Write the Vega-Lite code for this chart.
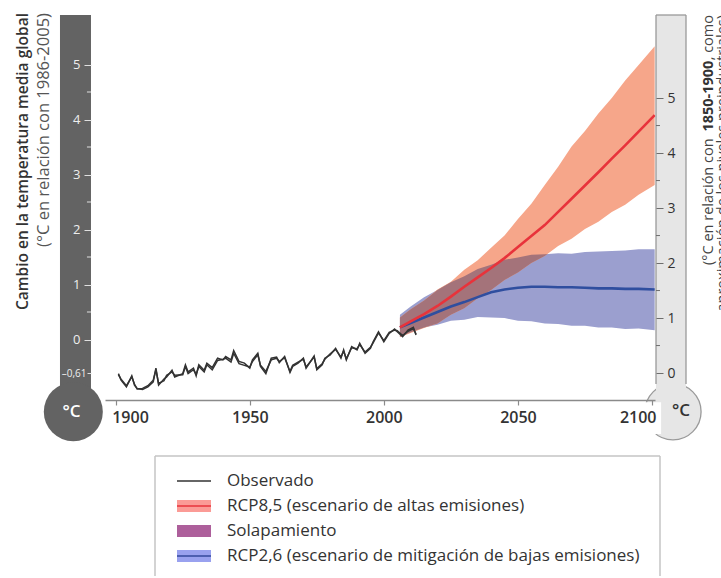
{
  "$schema": "https://vega.github.io/schema/vega-lite/v6.json",
  "padding": 0,
  "autosize": {"type": "pad"},
  "spacing": 12,
  "config": {"view": {"stroke": null}, "font": "Open Sans", "axis": {"grid": false}},
  "datasets": {
    "observado": [
      {"anio": 1901, "valor": -0.62, "conjunto": "A"}, {"anio": 1902, "valor": -0.74, "conjunto": "A"}, {"anio": 1904, "valor": -0.86, "conjunto": "A"}, {"anio": 1906, "valor": -0.66, "conjunto": "A"}, {"anio": 1907, "valor": -0.83, "conjunto": "A"}, {"anio": 1908, "valor": -0.89, "conjunto": "A"}, {"anio": 1910, "valor": -0.91, "conjunto": "A"}, {"anio": 1912, "valor": -0.86, "conjunto": "A"}, {"anio": 1914, "valor": -0.77, "conjunto": "A"}, {"anio": 1915, "valor": -0.52, "conjunto": "A"}, {"anio": 1916, "valor": -0.83, "conjunto": "A"}, {"anio": 1918, "valor": -0.72, "conjunto": "A"}, {"anio": 1919, "valor": -0.68, "conjunto": "A"}, {"anio": 1921, "valor": -0.56, "conjunto": "A"}, {"anio": 1922, "valor": -0.68, "conjunto": "A"}, {"anio": 1925, "valor": -0.62, "conjunto": "A"}, {"anio": 1926, "valor": -0.46, "conjunto": "A"}, {"anio": 1927, "valor": -0.59, "conjunto": "A"}, {"anio": 1929, "valor": -0.52, "conjunto": "A"}, {"anio": 1930, "valor": -0.66, "conjunto": "A"}, {"anio": 1931, "valor": -0.46, "conjunto": "A"}, {"anio": 1933, "valor": -0.56, "conjunto": "A"}, {"anio": 1934, "valor": -0.43, "conjunto": "A"}, {"anio": 1936, "valor": -0.51, "conjunto": "A"}, {"anio": 1938, "valor": -0.34, "conjunto": "A"}, {"anio": 1940, "valor": -0.37, "conjunto": "A"}, {"anio": 1941, "valor": -0.31, "conjunto": "A"}, {"anio": 1943, "valor": -0.37, "conjunto": "A"}, {"anio": 1944, "valor": -0.2, "conjunto": "A"}, {"anio": 1946, "valor": -0.4, "conjunto": "A"}, {"anio": 1948, "valor": -0.43, "conjunto": "A"}, {"anio": 1950, "valor": -0.52, "conjunto": "A"}, {"anio": 1951, "valor": -0.37, "conjunto": "A"}, {"anio": 1953, "valor": -0.25, "conjunto": "A"}, {"anio": 1954, "valor": -0.49, "conjunto": "A"}, {"anio": 1956, "valor": -0.62, "conjunto": "A"}, {"anio": 1958, "valor": -0.34, "conjunto": "A"}, {"anio": 1960, "valor": -0.32, "conjunto": "A"}, {"anio": 1961, "valor": -0.42, "conjunto": "A"}, {"anio": 1963, "valor": -0.31, "conjunto": "A"}, {"anio": 1965, "valor": -0.6, "conjunto": "A"}, {"anio": 1966, "valor": -0.49, "conjunto": "A"}, {"anio": 1968, "valor": -0.43, "conjunto": "A"}, {"anio": 1970, "valor": -0.34, "conjunto": "A"}, {"anio": 1971, "valor": -0.52, "conjunto": "A"}, {"anio": 1974, "valor": -0.3, "conjunto": "A"}, {"anio": 1975, "valor": -0.55, "conjunto": "A"}, {"anio": 1977, "valor": -0.46, "conjunto": "A"}, {"anio": 1978, "valor": -0.34, "conjunto": "A"}, {"anio": 1980, "valor": -0.28, "conjunto": "A"}, {"anio": 1982, "valor": -0.16, "conjunto": "A"}, {"anio": 1984, "valor": -0.34, "conjunto": "A"}, {"anio": 1985, "valor": -0.19, "conjunto": "A"}, {"anio": 1986, "valor": -0.37, "conjunto": "A"}, {"anio": 1988, "valor": -0.13, "conjunto": "A"}, {"anio": 1990, "valor": -0.19, "conjunto": "A"}, {"anio": 1991, "valor": -0.07, "conjunto": "A"}, {"anio": 1993, "valor": -0.25, "conjunto": "A"}, {"anio": 1995, "valor": -0.16, "conjunto": "A"}, {"anio": 1996, "valor": -0.04, "conjunto": "A"}, {"anio": 1998, "valor": 0.14, "conjunto": "A"}, {"anio": 2000, "valor": -0.04, "conjunto": "A"}, {"anio": 2002, "valor": 0.11, "conjunto": "A"}, {"anio": 2004, "valor": 0.19, "conjunto": "A"}, {"anio": 2005, "valor": 0.14, "conjunto": "A"}, {"anio": 2007, "valor": 0.05, "conjunto": "A"}, {"anio": 2009, "valor": 0.17, "conjunto": "A"}, {"anio": 2011, "valor": 0.22, "conjunto": "A"}, {"anio": 2012, "valor": 0.08, "conjunto": "A"},
      {"anio": 1901, "valor": -0.64, "conjunto": "B"}, {"anio": 1902, "valor": -0.72, "conjunto": "B"}, {"anio": 1904, "valor": -0.84, "conjunto": "B"}, {"anio": 1906, "valor": -0.68, "conjunto": "B"}, {"anio": 1907, "valor": -0.81, "conjunto": "B"}, {"anio": 1908, "valor": -0.9, "conjunto": "B"}, {"anio": 1910, "valor": -0.89, "conjunto": "B"}, {"anio": 1912, "valor": -0.84, "conjunto": "B"}, {"anio": 1914, "valor": -0.74, "conjunto": "B"}, {"anio": 1915, "valor": -0.55, "conjunto": "B"}, {"anio": 1916, "valor": -0.8, "conjunto": "B"}, {"anio": 1918, "valor": -0.75, "conjunto": "B"}, {"anio": 1919, "valor": -0.65, "conjunto": "B"}, {"anio": 1921, "valor": -0.59, "conjunto": "B"}, {"anio": 1922, "valor": -0.65, "conjunto": "B"}, {"anio": 1925, "valor": -0.64, "conjunto": "B"}, {"anio": 1926, "valor": -0.49, "conjunto": "B"}, {"anio": 1927, "valor": -0.62, "conjunto": "B"}, {"anio": 1929, "valor": -0.55, "conjunto": "B"}, {"anio": 1930, "valor": -0.63, "conjunto": "B"}, {"anio": 1931, "valor": -0.49, "conjunto": "B"}, {"anio": 1933, "valor": -0.59, "conjunto": "B"}, {"anio": 1934, "valor": -0.46, "conjunto": "B"}, {"anio": 1936, "valor": -0.55, "conjunto": "B"}, {"anio": 1938, "valor": -0.38, "conjunto": "B"}, {"anio": 1940, "valor": -0.36, "conjunto": "B"}, {"anio": 1941, "valor": -0.34, "conjunto": "B"}, {"anio": 1943, "valor": -0.41, "conjunto": "B"}, {"anio": 1944, "valor": -0.25, "conjunto": "B"}, {"anio": 1946, "valor": -0.44, "conjunto": "B"}, {"anio": 1948, "valor": -0.47, "conjunto": "B"}, {"anio": 1950, "valor": -0.5, "conjunto": "B"}, {"anio": 1951, "valor": -0.4, "conjunto": "B"}, {"anio": 1953, "valor": -0.28, "conjunto": "B"}, {"anio": 1954, "valor": -0.47, "conjunto": "B"}, {"anio": 1956, "valor": -0.58, "conjunto": "B"}, {"anio": 1958, "valor": -0.37, "conjunto": "B"}, {"anio": 1960, "valor": -0.34, "conjunto": "B"}, {"anio": 1961, "valor": -0.4, "conjunto": "B"}, {"anio": 1963, "valor": -0.33, "conjunto": "B"}, {"anio": 1965, "valor": -0.58, "conjunto": "B"}, {"anio": 1966, "valor": -0.47, "conjunto": "B"}, {"anio": 1968, "valor": -0.41, "conjunto": "B"}, {"anio": 1970, "valor": -0.36, "conjunto": "B"}, {"anio": 1971, "valor": -0.5, "conjunto": "B"}, {"anio": 1974, "valor": -0.32, "conjunto": "B"}, {"anio": 1975, "valor": -0.53, "conjunto": "B"}, {"anio": 1977, "valor": -0.44, "conjunto": "B"}, {"anio": 1978, "valor": -0.36, "conjunto": "B"}, {"anio": 1980, "valor": -0.26, "conjunto": "B"}, {"anio": 1982, "valor": -0.18, "conjunto": "B"}, {"anio": 1984, "valor": -0.32, "conjunto": "B"}, {"anio": 1985, "valor": -0.21, "conjunto": "B"}, {"anio": 1986, "valor": -0.35, "conjunto": "B"}, {"anio": 1988, "valor": -0.15, "conjunto": "B"}, {"anio": 1990, "valor": -0.17, "conjunto": "B"}, {"anio": 1991, "valor": -0.09, "conjunto": "B"}, {"anio": 1993, "valor": -0.23, "conjunto": "B"}, {"anio": 1995, "valor": -0.14, "conjunto": "B"}, {"anio": 1996, "valor": -0.06, "conjunto": "B"}, {"anio": 1998, "valor": 0.12, "conjunto": "B"}, {"anio": 2000, "valor": -0.02, "conjunto": "B"}, {"anio": 2002, "valor": 0.13, "conjunto": "B"}, {"anio": 2004, "valor": 0.17, "conjunto": "B"}, {"anio": 2005, "valor": 0.16, "conjunto": "B"}, {"anio": 2007, "valor": 0.07, "conjunto": "B"}, {"anio": 2009, "valor": 0.15, "conjunto": "B"}, {"anio": 2011, "valor": 0.2, "conjunto": "B"}, {"anio": 2012, "valor": 0.1, "conjunto": "B"}
    ],
    "proyecciones": [
      {"anio": 2006, "escenario": "RCP8,5", "media": 0.22, "inferior": 0.04, "superior": 0.4},
      {"anio": 2010, "escenario": "RCP8,5", "media": 0.33, "inferior": 0.12, "superior": 0.55},
      {"anio": 2015, "escenario": "RCP8,5", "media": 0.46, "inferior": 0.21, "superior": 0.71},
      {"anio": 2020, "escenario": "RCP8,5", "media": 0.61, "inferior": 0.29, "superior": 0.91},
      {"anio": 2025, "escenario": "RCP8,5", "media": 0.78, "inferior": 0.45, "superior": 1.05},
      {"anio": 2030, "escenario": "RCP8,5", "media": 0.96, "inferior": 0.57, "superior": 1.27},
      {"anio": 2035, "escenario": "RCP8,5", "media": 1.13, "inferior": 0.75, "superior": 1.44},
      {"anio": 2040, "escenario": "RCP8,5", "media": 1.3, "inferior": 0.9, "superior": 1.67},
      {"anio": 2045, "escenario": "RCP8,5", "media": 1.48, "inferior": 1.08, "superior": 1.89},
      {"anio": 2050, "escenario": "RCP8,5", "media": 1.68, "inferior": 1.22, "superior": 2.19},
      {"anio": 2055, "escenario": "RCP8,5", "media": 1.88, "inferior": 1.39, "superior": 2.47},
      {"anio": 2060, "escenario": "RCP8,5", "media": 2.08, "inferior": 1.52, "superior": 2.81},
      {"anio": 2065, "escenario": "RCP8,5", "media": 2.32, "inferior": 1.7, "superior": 3.14},
      {"anio": 2070, "escenario": "RCP8,5", "media": 2.56, "inferior": 1.83, "superior": 3.51},
      {"anio": 2075, "escenario": "RCP8,5", "media": 2.8, "inferior": 2.01, "superior": 3.79},
      {"anio": 2080, "escenario": "RCP8,5", "media": 3.04, "inferior": 2.14, "superior": 4.11},
      {"anio": 2085, "escenario": "RCP8,5", "media": 3.29, "inferior": 2.32, "superior": 4.39},
      {"anio": 2090, "escenario": "RCP8,5", "media": 3.53, "inferior": 2.45, "superior": 4.71},
      {"anio": 2095, "escenario": "RCP8,5", "media": 3.78, "inferior": 2.63, "superior": 4.99},
      {"anio": 2101, "escenario": "RCP8,5", "media": 4.08, "inferior": 2.81, "superior": 5.33},
      {"anio": 2006, "escenario": "RCP2,6", "media": 0.22, "inferior": 0.05, "superior": 0.45},
      {"anio": 2010, "escenario": "RCP2,6", "media": 0.3, "inferior": 0.13, "superior": 0.6},
      {"anio": 2015, "escenario": "RCP2,6", "media": 0.4, "inferior": 0.22, "superior": 0.77},
      {"anio": 2020, "escenario": "RCP2,6", "media": 0.5, "inferior": 0.27, "superior": 0.9},
      {"anio": 2025, "escenario": "RCP2,6", "media": 0.6, "inferior": 0.34, "superior": 1.04},
      {"anio": 2030, "escenario": "RCP2,6", "media": 0.68, "inferior": 0.36, "superior": 1.15},
      {"anio": 2035, "escenario": "RCP2,6", "media": 0.77, "inferior": 0.41, "superior": 1.28},
      {"anio": 2040, "escenario": "RCP2,6", "media": 0.86, "inferior": 0.4, "superior": 1.36},
      {"anio": 2045, "escenario": "RCP2,6", "media": 0.91, "inferior": 0.39, "superior": 1.45},
      {"anio": 2050, "escenario": "RCP2,6", "media": 0.94, "inferior": 0.34, "superior": 1.49},
      {"anio": 2055, "escenario": "RCP2,6", "media": 0.96, "inferior": 0.33, "superior": 1.54},
      {"anio": 2060, "escenario": "RCP2,6", "media": 0.96, "inferior": 0.29, "superior": 1.55},
      {"anio": 2065, "escenario": "RCP2,6", "media": 0.95, "inferior": 0.28, "superior": 1.57},
      {"anio": 2070, "escenario": "RCP2,6", "media": 0.95, "inferior": 0.25, "superior": 1.56},
      {"anio": 2075, "escenario": "RCP2,6", "media": 0.94, "inferior": 0.25, "superior": 1.59},
      {"anio": 2080, "escenario": "RCP2,6", "media": 0.93, "inferior": 0.22, "superior": 1.6},
      {"anio": 2085, "escenario": "RCP2,6", "media": 0.93, "inferior": 0.22, "superior": 1.61},
      {"anio": 2090, "escenario": "RCP2,6", "media": 0.92, "inferior": 0.19, "superior": 1.62},
      {"anio": 2095, "escenario": "RCP2,6", "media": 0.92, "inferior": 0.2, "superior": 1.64},
      {"anio": 2101, "escenario": "RCP2,6", "media": 0.91, "inferior": 0.17, "superior": 1.64}
    ],
    "solapamiento": [
      {"anio": 2006, "inferior": 0.05, "superior": 0.4},
      {"anio": 2010, "inferior": 0.13, "superior": 0.55},
      {"anio": 2015, "inferior": 0.22, "superior": 0.71},
      {"anio": 2020, "inferior": 0.29, "superior": 0.9},
      {"anio": 2025, "inferior": 0.45, "superior": 1.04},
      {"anio": 2030, "inferior": 0.57, "superior": 1.15},
      {"anio": 2035, "inferior": 0.75, "superior": 1.28},
      {"anio": 2040, "inferior": 0.9, "superior": 1.36},
      {"anio": 2045, "inferior": 1.08, "superior": 1.45},
      {"anio": 2050, "inferior": 1.22, "superior": 1.49},
      {"anio": 2055, "inferior": 1.39, "superior": 1.54},
      {"anio": 2060, "inferior": 1.52, "superior": 1.55},
      {"anio": 2061, "inferior": 1.553, "superior": 1.553}
    ],
    "leyenda": [
      {"orden": 1, "etiqueta": "Observado"},
      {"orden": 2, "etiqueta": "RCP8,5 (escenario de altas emisiones)"},
      {"orden": 3, "etiqueta": "Solapamiento"},
      {"orden": 4, "etiqueta": "RCP2,6 (escenario de mitigación de bajas emisiones)"}
    ]
  },
  "vconcat": [
    {
      "hconcat": [
        {
          "width": 105,
          "height": 400,
          "data": {"values": [{"v": 0.5}, {"v": 1.5}, {"v": 2.5}, {"v": 3.5}, {"v": 4.5}]},
          "encoding": {
            "y": {"type": "quantitative", "scale": {"domain": [-1.1, 6.17273], "nice": false, "zero": false},
              "axis": {"orient": "left", "offset": -91, "values": [-0.61, 0, 1, 2, 3, 4, 5], "labelExpr": "datum.value < -0.5 ? '–0,61' : datum.label", "title": null, "domain": false, "grid": false, "tickColor": "#e0e0e0", "tickWidth": 1, "tickSize": {"condition": {"test": "datum.value < -0.5", "value": 4}, "value": 7}, "labelColor": "#eeeeee", "labelFont": "Open Sans", "labelFontSize": {"condition": {"test": "datum.value < -0.5", "value": 10}, "value": 13}, "labelPadding": {"condition": {"test": "datum.value < -0.5", "value": 1}, "value": 4}, "zindex": 1}}
          },
          "layer": [
            {
              "transform": [{"filter": "datum.v === 0.5"}],
              "mark": {"type": "rect", "fill": "#636363"},
              "encoding": {
                "x": {"datum": 0, "type": "quantitative", "scale": {"domain": [-1.935, 1.452], "nice": false, "zero": false}, "axis": null},
                "x2": {"datum": 1},
                "y": {"datum": -0.9},
                "y2": {"datum": 5.9}
              }
            },
            {
              "mark": {"type": "rule", "stroke": "#e0e0e0", "strokeWidth": 1},
              "encoding": {
                "x": {"datum": 0.87, "type": "quantitative", "scale": {"domain": [-1.935, 1.452], "nice": false, "zero": false}, "axis": null},
                "x2": {"datum": 1},
                "y": {"field": "v"}
              }
            },
            {
              "transform": [{"filter": "datum.v === 0.5"}],
              "mark": {"type": "point", "shape": "circle", "filled": true, "fill": "#636363", "size": 3484, "opacity": 1, "strokeWidth": 0},
              "encoding": {
                "x": {"datum": 0.43, "type": "quantitative", "scale": {"domain": [-1.935, 1.452], "nice": false, "zero": false}, "axis": null},
                "y": {"datum": -1.313}
              }
            },
            {
              "transform": [{"filter": "datum.v === 0.5"}],
              "mark": {"type": "text", "text": "°C", "font": "Open Sans", "fontSize": 17, "fontWeight": 600, "color": "#ffffff"},
              "encoding": {
                "x": {"datum": 0.37, "type": "quantitative", "scale": {"domain": [-1.935, 1.452], "nice": false, "zero": false}, "axis": null},
                "y": {"datum": -1.327}
              }
            },
            {
              "transform": [{"filter": "datum.v === 0.5"}],
              "mark": {"type": "text", "text": "Cambio en la temperatura media global", "angle": 270, "align": "right", "baseline": "middle", "font": "Open Sans", "fontSize": 15.5, "fontWeight": 600, "color": "#333333"},
              "encoding": {
                "x": {"datum": -1.194, "type": "quantitative", "scale": {"domain": [-1.935, 1.452], "nice": false, "zero": false}, "axis": null},
                "y": {"datum": 5.936}
              }
            },
            {
              "transform": [{"filter": "datum.v === 0.5"}],
              "mark": {"type": "text", "text": "(°C en relación con 1986-2005)", "angle": 270, "align": "right", "baseline": "middle", "font": "Open Sans", "fontSize": 16.5, "fontWeight": 400, "color": "#555555"},
              "encoding": {
                "x": {"datum": -0.516, "type": "quantitative", "scale": {"domain": [-1.935, 1.452], "nice": false, "zero": false}, "axis": null},
                "y": {"datum": 5.936}
              }
            }
          ]
        },
        {
          "width": 550,
          "height": 400,
          "encoding": {
            "x": {"type": "quantitative", "scale": {"domain": [1896.01, 2101.12], "nice": false, "zero": false},
              "axis": {"values": [1900, 1950, 2000, 2050, 2100], "format": "d", "title": null, "grid": false, "domainColor": "#8a8a8a", "domainWidth": 1.5, "tickColor": "#8a8a8a", "tickWidth": 1.2, "tickSize": 5, "labelFont": "Open Sans", "labelFontSize": 16, "labelFontWeight": 600, "labelColor": "#333333", "labelPadding": 4, "labelFlush": 15, "labelFlushOffset": 4, "zindex": 1}}
          },
          "layer": [
            {
              "data": {"values": [{}]},
              "mark": {"type": "point", "shape": "circle", "filled": true, "fill": "#e6e6e6", "stroke": "#9a9a9a", "strokeWidth": 1.3, "size": 3157, "opacity": 1},
              "encoding": {
                "x": {"datum": 2107.83},
                "y": {"datum": -1.313, "type": "quantitative", "scale": {"domain": [-1.1, 6.17273], "nice": false, "zero": false}, "axis": null}
              }
            },
            {
              "data": {"values": [{}]},
              "mark": {"type": "rect", "fill": "#ffffff"},
              "encoding": {
                "x": {"datum": 2087.3},
                "x2": {"datum": 2103.4},
                "y": {"datum": -1.14, "type": "quantitative", "scale": {"domain": [-1.1, 6.17273], "nice": false, "zero": false}, "axis": null},
                "y2": {"datum": -1.72}
              }
            },
            {
              "data": {"values": [{}]},
              "mark": {"type": "text", "text": "°C", "font": "Open Sans", "fontSize": 17, "fontWeight": 600, "color": "#333333"},
              "encoding": {
                "x": {"datum": 2110.8},
                "y": {"datum": -1.3, "type": "quantitative", "scale": {"domain": [-1.1, 6.17273], "nice": false, "zero": false}, "axis": null}
              }
            },
            {
              "data": {"name": "proyecciones"},
              "transform": [{"filter": "datum.escenario === 'RCP2,6'"}],
              "mark": {"type": "area", "color": "#9b9fcf", "opacity": 1},
              "encoding": {
                "x": {"field": "anio"},
                "y": {"field": "inferior", "type": "quantitative", "scale": {"domain": [-1.1, 6.17273], "nice": false, "zero": false}, "axis": null},
                "y2": {"field": "superior"}
              }
            },
            {
              "data": {"name": "proyecciones"},
              "transform": [{"filter": "datum.escenario === 'RCP8,5'"}],
              "mark": {"type": "area", "color": "#f6a68a", "opacity": 1},
              "encoding": {
                "x": {"field": "anio"},
                "y": {"field": "inferior", "type": "quantitative", "scale": {"domain": [-1.1, 6.17273], "nice": false, "zero": false}, "axis": null},
                "y2": {"field": "superior"}
              }
            },
            {
              "data": {"name": "solapamiento"},
              "mark": {"type": "area", "color": "#a4737a", "opacity": 1},
              "encoding": {
                "x": {"field": "anio"},
                "y": {"field": "inferior", "type": "quantitative", "scale": {"domain": [-1.1, 6.17273], "nice": false, "zero": false}, "axis": null},
                "y2": {"field": "superior"}
              }
            },
            {
              "data": {"name": "proyecciones"},
              "transform": [{"filter": "datum.escenario === 'RCP2,6'"}],
              "mark": {"type": "line", "color": "#2f4e9f", "strokeWidth": 2.6},
              "encoding": {
                "x": {"field": "anio"},
                "y": {"field": "media", "type": "quantitative", "scale": {"domain": [-1.1, 6.17273], "nice": false, "zero": false}, "axis": null}
              }
            },
            {
              "data": {"name": "proyecciones"},
              "transform": [{"filter": "datum.escenario === 'RCP8,5'"}],
              "mark": {"type": "line", "color": "#e8333b", "strokeWidth": 2.6},
              "encoding": {
                "x": {"field": "anio"},
                "y": {"field": "media", "type": "quantitative", "scale": {"domain": [-1.1, 6.17273], "nice": false, "zero": false}, "axis": null}
              }
            },
            {
              "data": {"name": "observado"},
              "mark": {"type": "line", "color": "#333333", "strokeWidth": 1.5},
              "encoding": {
                "x": {"field": "anio"},
                "y": {"field": "valor", "type": "quantitative", "scale": {"domain": [-1.1, 6.17273], "nice": false, "zero": false}, "axis": null},
                "detail": {"field": "conjunto", "type": "nominal"}
              }
            }
          ]
        },
        {
          "width": 66,
          "height": 400,
          "data": {"values": [{"v": 0.5}, {"v": 1.5}, {"v": 2.5}, {"v": 3.5}, {"v": 4.5}]},
          "encoding": {
            "y": {"type": "quantitative", "scale": {"domain": [-0.49, 6.78273], "nice": false, "zero": false},
              "axis": {"orient": "right", "offset": -65, "values": [0, 1, 2, 3, 4, 5], "title": null, "grid": false, "domain": false, "tickColor": "#6e6e6e", "tickSize": 7, "labelColor": "#333333", "labelFont": "Open Sans", "labelFontSize": 14, "labelPadding": 4, "zindex": 1}}
          },
          "layer": [
            {
              "transform": [{"filter": "datum.v === 0.5"}],
              "mark": {"type": "rect", "fill": "#e6e6e6"},
              "encoding": {
                "x": {"datum": 0, "type": "quantitative", "scale": {"domain": [-0.0333, 2.1667], "nice": false, "zero": false}, "axis": null},
                "x2": {"datum": 1},
                "y": {"datum": -0.345},
                "y2": {"datum": 6.51}
              }
            },
            {
              "transform": [{"filter": "datum.v === 0.5"}],
              "mark": {"type": "rule", "stroke": "#9a9a9a", "strokeWidth": 1.3},
              "encoding": {
                "x": {"datum": 0, "type": "quantitative", "scale": {"domain": [-0.0333, 2.1667], "nice": false, "zero": false}, "axis": null},
                "y": {"datum": -0.199},
                "y2": {"datum": 6.51}
              }
            },
            {
              "transform": [{"filter": "datum.v === 0.5"}],
              "mark": {"type": "rule", "stroke": "#9a9a9a", "strokeWidth": 1.3},
              "encoding": {
                "x": {"datum": 1, "type": "quantitative", "scale": {"domain": [-0.0333, 2.1667], "nice": false, "zero": false}, "axis": null},
                "y": {"datum": -0.199},
                "y2": {"datum": 6.51}
              }
            },
            {
              "transform": [{"filter": "datum.v === 0.5"}],
              "mark": {"type": "rule", "stroke": "#9a9a9a", "strokeWidth": 1.3},
              "encoding": {
                "x": {"datum": 0, "type": "quantitative", "scale": {"domain": [-0.0333, 2.1667], "nice": false, "zero": false}, "axis": null},
                "x2": {"datum": 1},
                "y": {"datum": 6.51}
              }
            },
            {
              "mark": {"type": "rule", "stroke": "#6e6e6e", "strokeWidth": 1},
              "encoding": {
                "x": {"datum": 0, "type": "quantitative", "scale": {"domain": [-0.0333, 2.1667], "nice": false, "zero": false}, "axis": null},
                "x2": {"datum": 0.133},
                "y": {"field": "v"}
              }
            },
            {
              "transform": [{"filter": "datum.v === 0.5"}],
              "mark": {"type": "text", "text": "(°C en relación con", "angle": 270, "align": "right", "baseline": "middle", "font": "Open Sans", "fontSize": 14.5, "fontWeight": 400, "color": "#444444", "clip": true},
              "encoding": {
                "x": {"datum": 1.767, "type": "quantitative", "scale": {"domain": [-0.0333, 2.1667], "nice": false, "zero": false}, "axis": null},
                "y": {"datum": 4.266}
              }
            },
            {
              "transform": [{"filter": "datum.v === 0.5"}],
              "mark": {"type": "text", "text": "1850-1900", "angle": 270, "align": "right", "baseline": "middle", "font": "Open Sans", "fontSize": 14.5, "fontWeight": 700, "color": "#333333", "clip": true},
              "encoding": {
                "x": {"datum": 1.767, "type": "quantitative", "scale": {"domain": [-0.0333, 2.1667], "nice": false, "zero": false}, "axis": null},
                "y": {"datum": 5.681}
              }
            },
            {
              "transform": [{"filter": "datum.v === 0.5"}],
              "mark": {"type": "text", "text": ", como", "angle": 270, "align": "right", "baseline": "middle", "font": "Open Sans", "fontSize": 14.5, "fontWeight": 400, "color": "#444444", "clip": true},
              "encoding": {
                "x": {"datum": 1.767, "type": "quantitative", "scale": {"domain": [-0.0333, 2.1667], "nice": false, "zero": false}, "axis": null},
                "y": {"datum": 6.51}
              }
            },
            {
              "transform": [{"filter": "datum.v === 0.5"}],
              "mark": {"type": "text", "text": "aproximación de los niveles preindustriales)", "angle": 270, "align": "right", "baseline": "middle", "font": "Open Sans", "fontSize": 14.5, "fontWeight": 400, "color": "#444444", "clip": true},
              "encoding": {
                "x": {"datum": 2.233, "type": "quantitative", "scale": {"domain": [-0.0333, 2.1667], "nice": false, "zero": false}, "axis": null},
                "y": {"datum": 6.51}
              }
            }
          ]
        }
      ],
      "spacing": 0,
      "bounds": "flush"
    },
    {
      "hconcat": [
        {
          "width": 155,
          "height": 121,
          "data": {"values": []},
          "mark": "point",
          "encoding": {}
        },
        {
          "width": 505,
          "height": 121,
          "data": {"name": "leyenda"},
          "resolve": {"scale": {"stroke": "independent"}},
          "layer": [
            {
              "data": {"values": [{}]},
              "mark": {"type": "rule", "stroke": "#c4c4c4", "strokeWidth": 1.5},
              "encoding": {
                "x": {"datum": 0, "type": "quantitative", "scale": {"domain": [0, 505], "nice": false, "zero": false}, "axis": null},
                "x2": {"datum": 505},
                "y": {"datum": 0, "type": "quantitative", "scale": {"domain": [0, 4.84], "nice": false, "zero": false, "reverse": true}, "axis": null}
              }
            },
            {
              "data": {"values": [{}]},
              "mark": {"type": "rule", "stroke": "#c4c4c4", "strokeWidth": 1.5},
              "encoding": {
                "x": {"datum": 0, "type": "quantitative", "scale": {"domain": [0, 505], "nice": false, "zero": false}, "axis": null},
                "y": {"datum": 0, "type": "quantitative", "scale": {"domain": [0, 4.84], "nice": false, "zero": false, "reverse": true}, "axis": null},
                "y2": {"datum": 4.8}
              }
            },
            {
              "data": {"values": [{}]},
              "mark": {"type": "rule", "stroke": "#c4c4c4", "strokeWidth": 1.5},
              "encoding": {
                "x": {"datum": 505, "type": "quantitative", "scale": {"domain": [0, 505], "nice": false, "zero": false}, "axis": null},
                "y": {"datum": 0, "type": "quantitative", "scale": {"domain": [0, 4.84], "nice": false, "zero": false, "reverse": true}, "axis": null},
                "y2": {"datum": 4.8}
              }
            },
            {
              "transform": [{"filter": "datum.orden >= 2"}],
              "mark": {"type": "rule", "strokeWidth": 12, "strokeCap": "butt"},
              "encoding": {
                "x": {"datum": 22, "type": "quantitative", "scale": {"domain": [0, 505], "nice": false, "zero": false}, "axis": null},
                "x2": {"datum": 56},
                "y": {"field": "orden", "type": "quantitative", "scale": {"domain": [0, 4.84], "nice": false, "zero": false, "reverse": true}, "axis": null},
                "stroke": {"field": "etiqueta", "type": "nominal", "legend": null,
                  "scale": {"domain": ["RCP8,5 (escenario de altas emisiones)", "Solapamiento", "RCP2,6 (escenario de mitigación de bajas emisiones)"], "range": ["#fb9b96", "#ad5f9b", "#99a1ef"]}}
              }
            },
            {
              "transform": [{"filter": "datum.orden != 3"}],
              "mark": {"type": "rule", "strokeWidth": 1.6, "strokeCap": "butt"},
              "encoding": {
                "x": {"datum": 22, "type": "quantitative", "scale": {"domain": [0, 505], "nice": false, "zero": false}, "axis": null},
                "x2": {"datum": 56},
                "y": {"field": "orden", "type": "quantitative", "scale": {"domain": [0, 4.84], "nice": false, "zero": false, "reverse": true}, "axis": null},
                "stroke": {"field": "etiqueta", "type": "nominal", "legend": null,
                  "scale": {"domain": ["Observado", "RCP8,5 (escenario de altas emisiones)", "RCP2,6 (escenario de mitigación de bajas emisiones)"], "range": ["#333333", "#e8333b", "#34489c"]}}
              }
            },
            {
              "mark": {"type": "text", "align": "left", "baseline": "middle", "font": "Open Sans", "fontSize": 17, "color": "#333333"},
              "encoding": {
                "x": {"datum": 72, "type": "quantitative", "scale": {"domain": [0, 505], "nice": false, "zero": false}, "axis": null},
                "y": {"field": "orden", "type": "quantitative", "scale": {"domain": [0, 4.84], "nice": false, "zero": false, "reverse": true}, "axis": null},
                "text": {"field": "etiqueta", "type": "nominal"}
              }
            }
          ]
        }
      ],
      "spacing": 0,
      "bounds": "flush"
    }
  ]
}
